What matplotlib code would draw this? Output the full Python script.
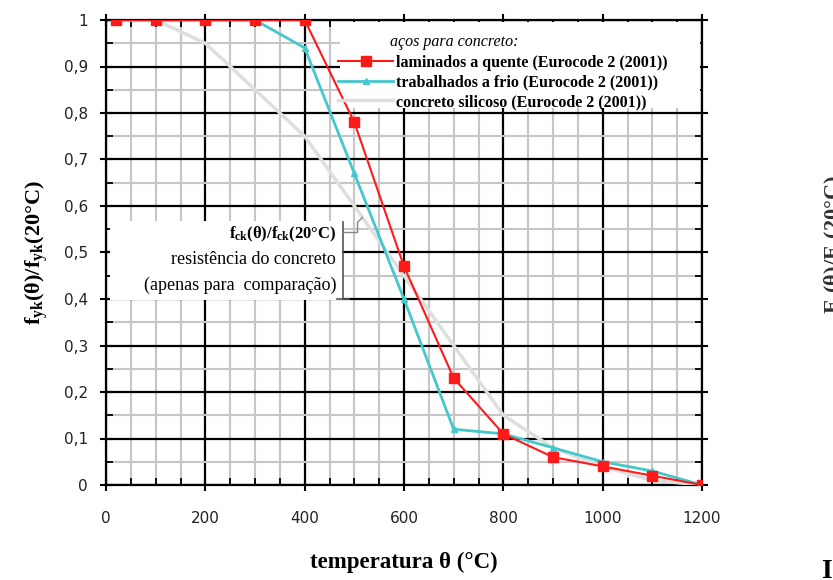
import numpy as np
import matplotlib as mpl
mpl.rcParams["font.family"] = "serif"
mpl.rcParams["font.serif"] = ["Liberation Serif", "DejaVu Serif"]
mpl.rcParams["mathtext.fontset"] = "custom"
mpl.rcParams["mathtext.rm"] = "Liberation Serif"
mpl.rcParams["mathtext.bf"] = "Liberation Serif:bold"
mpl.rcParams["mathtext.it"] = "Liberation Serif:italic"
import matplotlib.pyplot as plt
from matplotlib.ticker import MultipleLocator, FuncFormatter
from matplotlib.patches import Rectangle

# temperatures (°C) and reduction factors
temp = [20, 100, 200, 300, 400, 500, 600, 700, 800, 900, 1000, 1100, 1200]
hot_rolled = [1, 1, 1, 1, 1, 0.78, 0.47, 0.23, 0.11, 0.06, 0.04, 0.02, 0]
cold_worked = [1, 1, 1, 1, 0.94, 0.67, 0.40, 0.12, 0.11, 0.08, 0.05, 0.03, 0]
concrete = [1, 1, 0.95, 0.85, 0.75, 0.60, 0.45, 0.30, 0.15, 0.08, 0.04, 0.01, 0]

labels = ["laminados a quente (Eurocode 2 (2001))",
          "trabalhados a frio (Eurocode 2 (2001))",
          "concreto silicoso (Eurocode 2 (2001))"]

fig = plt.figure(figsize=(8.33, 5.8), dpi=100)
ax = fig.add_axes([106 / 833, 95 / 580, 596 / 833, 465 / 580])

ax.plot(temp, concrete, color="#dedede", lw=2.5, zorder=3, label=labels[2])
ax.plot(temp, cold_worked, color="#44c8cc", lw=2, marker="^", ms=5,
        zorder=4, label=labels[1])
ax.plot(temp, hot_rolled, color="#ff1a1a", lw=1.5, marker="s", ms=7,
        zorder=5, label=labels[0])

ax.set_xlim(0, 1200)
ax.set_ylim(0, 1)
ax.xaxis.set_major_locator(MultipleLocator(200))
ax.xaxis.set_minor_locator(MultipleLocator(50))
ax.yaxis.set_major_locator(MultipleLocator(0.1))
ax.yaxis.set_minor_locator(MultipleLocator(0.05))
ax.yaxis.set_major_formatter(FuncFormatter(lambda v, p: ("%g" % round(v, 2)).replace(".", ",")))

ax.grid(which="minor", color="#c6c6c6", lw=1.5, zorder=0)
ax.grid(which="major", color="black", lw=1.6, zorder=1)
ax.set_axisbelow(True)
for s in ax.spines.values():
    s.set_linewidth(1.6)

ax.tick_params(which="major", direction="inout", length=8, width=1.5,
               top=True, right=True, labelsize=11)
ax.tick_params(axis="x", which="major", pad=15)
ax.tick_params(axis="y", which="major", pad=9)
ax.tick_params(which="minor", direction="in", length=5, width=1.3,
               top=True, right=True)
for lab in ax.get_xticklabels() + ax.get_yticklabels():
    lab.set_family("DejaVu Sans")
    lab.set_color("#222222")

ax.set_xlabel("temperatura θ (°C)", fontsize=16.5, fontweight="bold", labelpad=18)
ax.set_ylabel(r"f$_{\mathbf{yk}}$(θ)/f$_{\mathbf{yk}}$(20°C)", fontsize=16,
              fontweight="bold", labelpad=10)

# legend in the upper right on a white patch
ax.add_patch(Rectangle((0.393, 0.81), 0.604, 0.186, transform=ax.transAxes,
                       facecolor="white", edgecolor="none", zorder=2))
ax.text(0.476, 0.953, "aços para concreto:", transform=ax.transAxes,
        ha="left", va="center", fontsize=11.5, style="italic", zorder=6)
h, l = ax.get_legend_handles_labels()
leg = ax.legend(h[::-1], l[::-1], loc="upper left", bbox_to_anchor=(0.39, 0.925),
                frameon=False, fontsize=11.5, handlelength=3.4,
                handletextpad=0.2, labelspacing=0.22, borderpad=0.0,
                borderaxespad=0.0)
for t in leg.get_texts():
    t.set_fontweight("bold")

# comparison note with white box and bracket
ax.add_patch(Rectangle((0.006, 0.397), 0.39, 0.17, transform=ax.transAxes,
                       facecolor="white", edgecolor="none", zorder=2))
ax.text(0.386, 0.54, r"f$_{\mathbf{ck}}$(θ)/f$_{\mathbf{ck}}$(20°C)",
        transform=ax.transAxes, ha="right", va="center", fontsize=12,
        fontweight="bold", zorder=6)
ax.text(0.386, 0.485, "resistência do concreto", transform=ax.transAxes,
        ha="right", va="center", fontsize=13, zorder=6)
ax.text(0.386, 0.43, "(apenas para  comparação)", transform=ax.transAxes,
        ha="right", va="center", fontsize=13, zorder=6)
bx = 0.398
ax.plot([bx, bx], [0.40, 0.565], color="#555555", lw=1.2, transform=ax.transAxes, zorder=6)
ax.plot([bx - 0.01, bx + 0.01], [0.40, 0.40], color="#555555", lw=1.2,
        transform=ax.transAxes, zorder=6)
ax.plot([bx, 0.422, 0.422, 0.43], [0.543, 0.543, 0.565, 0.575], color="#888888",
        lw=1.0, transform=ax.transAxes, zorder=6)

# fragment of the neighbouring chart, cut by the page edge
fig.text(823 / 833, 0.578, r"E$_{\mathbf{s}}$(θ)/E$_{\mathbf{s}}$(20°C)",
         rotation=90, ha="left", va="center", fontsize=16, fontweight="bold",
         color="#333333")
fig.text(821 / 833, 21 / 580, "I", ha="left", va="top", fontsize=20,
         fontweight="bold")

fig.savefig("out.png", dpi=100)
